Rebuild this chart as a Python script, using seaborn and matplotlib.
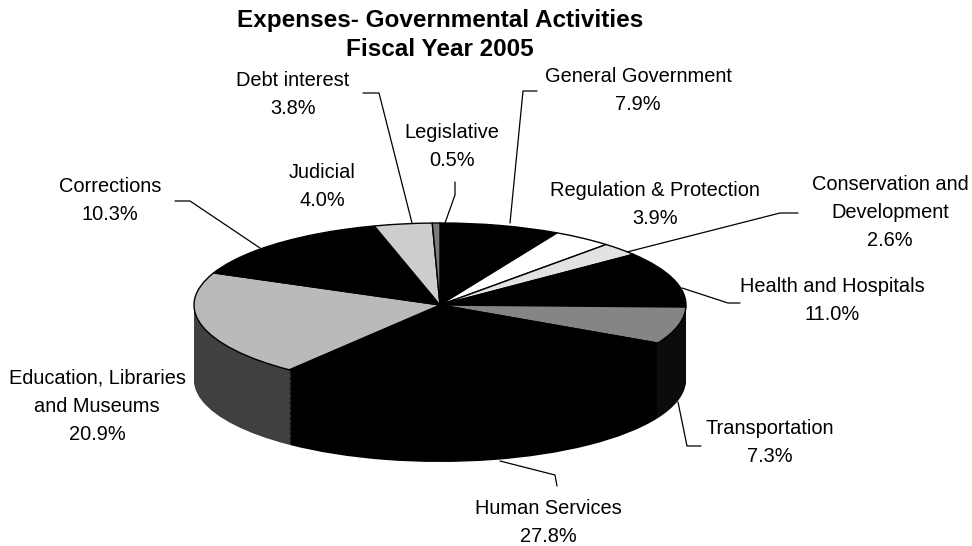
import numpy as np
import matplotlib
matplotlib.use("Agg")
import matplotlib.pyplot as plt
import seaborn as sns

# Expense shares by function, clockwise from 12 o'clock
categories = [
    "General Government",
    "Regulation & Protection",
    "Conservation and\nDevelopment",
    "Health and Hospitals",
    "Transportation",
    "Human Services",
    "Education, Libraries\nand Museums",
    "Corrections",
    "Judicial",
    "Debt interest",
    "Legislative",
]
shares = [7.9, 3.9, 2.6, 11.0, 7.3, 27.8, 20.9, 10.3, 4.0, 3.8, 0.5]

title_lines = ["Expenses- Governmental Activities", "Fiscal Year 2005"]

# Greyscale fills for the top face and the side wall of each slice
top_colors = ["#000000", "#ffffff", "#e2e2e2", "#000000", "#858585", "#000000",
              "#bababa", "#000000", "#000000", "#cdcdcd", "#7a7a7a"]
side_colors = ["#000000", "#9a9a9a", "#8a8a8a", "#000000", "#0c0c0c", "#000000",
               "#404040", "#000000", "#000000", "#777777", "#303030"]

# Label anchors (centre x, first-line y) in figure pixels, top-left origin
label_pos = {
    "General Government": (638, 77),
    "Regulation & Protection": (655, 190),
    "Conservation and\nDevelopment": (890, 185),
    "Health and Hospitals": (832, 287),
    "Transportation": (770, 428),
    "Human Services": (548, 508),
    "Education, Libraries\nand Museums": (97, 378),
    "Corrections": (110, 187),
    "Judicial": (322, 173),
    "Debt interest": (293, 80),
    "Legislative": (452, 133),
}
# Leader lines from label to slice rim
leaders = {
    "Debt interest": [(363, 93), (379, 93), (412, 223)],
    "Legislative": [(455, 182), (455, 195), (445, 223)],
    "General Government": [(537, 91), (523, 91), (510, 223)],
    "Corrections": [(175, 201), (190, 201), (260, 248)],
    "Conservation and\nDevelopment": [(798, 213), (780, 213), (627, 252)],
    "Health and Hospitals": [(682, 288), (728, 303), (740, 303)],
    "Transportation": [(678, 402), (687, 446), (701, 446)],
    "Human Services": [(500, 461), (555, 475), (557, 486)],
}

sns.set_theme(style="white")
plt.rcParams["font.family"] = ["Liberation Sans", "DejaVu Sans"]

W, H = 972, 546
fig = plt.figure(figsize=(W / 100, H / 100), dpi=100)
fig.patch.set_facecolor("white")

# Pie geometry (pixels): centre, horizontal/vertical radius, wall depth
CX, CY, RX, RY, DEPTH = 440, 305, 246, 82, 75
XPAD, YLO, YHI = 1.25, 2.3, 1.25
ax = fig.add_axes([(CX - XPAD * RX) / W, (H - (CY + YLO * RY)) / H,
                   2 * XPAD * RX / W, (YLO + YHI) * RY / H])

# Side wall: stacked copies of the pie, from the bottom up
depth_u = DEPTH / RY
for lv in np.linspace(depth_u, 0, 60, endpoint=False):
    ax.pie(shares, colors=side_colors, startangle=90, counterclock=False,
           center=(0, -lv), radius=1, wedgeprops=dict(linewidth=0))

# Top face
ax.pie(shares, colors=top_colors, startangle=90, counterclock=False,
       center=(0, 0), radius=1,
       wedgeprops=dict(edgecolor="black", linewidth=1.0))
ax.set_aspect("auto")
ax.set_xlim(-XPAD, XPAD)
ax.set_ylim(-YLO, YHI)
ax.axis("off")

# Overlay in pixel coordinates for labels, leaders and the title
ov = fig.add_axes([0, 0, 1, 1])
ov.set_xlim(0, W)
ov.set_ylim(H, 0)
ov.axis("off")
ov.patch.set_alpha(0)

for i, t in enumerate(title_lines):
    ov.text(440, 20 + 30 * i, t, ha="center", va="center",
            fontsize=17.5, fontweight="bold", color="black")

for name, val in zip(categories, shares):
    x, y0 = label_pos[name]
    lines = name.split("\n") + [f"{val:.1f}%"]
    for i, line in enumerate(lines):
        ov.text(x, y0 + 28 * i, line, ha="center", va="center",
                fontsize=14.4, color="black")

for name, pts in leaders.items():
    xs, ys = zip(*pts)
    ov.plot(xs, ys, color="black", lw=0.9)

fig.savefig("out.png", dpi=100, facecolor="white")
